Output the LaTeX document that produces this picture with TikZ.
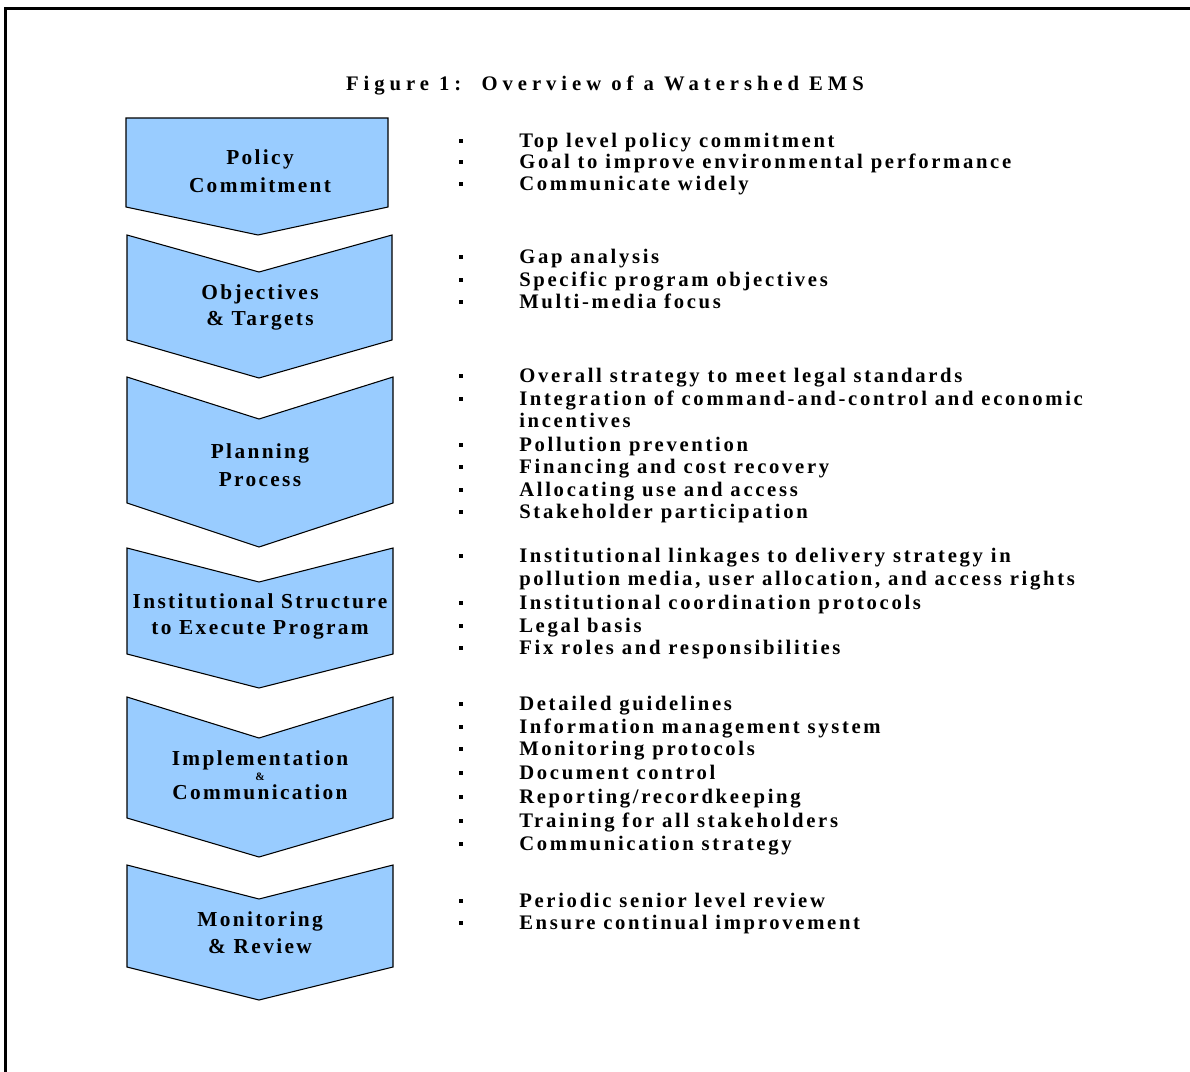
\documentclass[tikz,border=0pt]{standalone}
\usepackage{fontspec}
\setmainfont{Liberation Serif}
\newfontfamily\labfont[LetterSpace=11]{Liberation Serif}
\newfontfamily\itemfont[LetterSpace=13]{Liberation Serif}
\newfontfamily\ttlfont[LetterSpace=24]{Liberation Serif}
\definecolor{chevblue}{RGB}{153,204,255}
\begin{document}
\begin{tikzpicture}[x=0.75pt,y=-0.75pt,
  chev/.style={draw=black,line width=0.8pt,fill=chevblue,line join=miter},
  lab/.style={inner sep=0pt,anchor=mid,yshift=-2.5pt,font=\labfont\bfseries\fontsize{16pt}{18pt}\selectfont},
  amp/.style={inner sep=0pt,anchor=mid,yshift=-1pt,font=\labfont\bfseries\fontsize{8.5pt}{9pt}\selectfont},
  itm/.style={inner sep=0pt,anchor=mid west,yshift=-2.5pt,font=\itemfont\bfseries\fontsize{15.5pt}{17pt}\selectfont},
  bul/.style={inner sep=0pt,outer sep=0pt,rectangle,fill=black,minimum size=2.4pt}]
\useasboundingbox (0,0) rectangle (1190,1072);
% frame
\draw[line width=2.4pt,line cap=rect] (5.5,1072) -- (5.5,8.5) -- (1190,8.5);
% title
\node[inner sep=0pt,anchor=mid,yshift=-2.5pt,font=\ttlfont\bfseries\fontsize{15.5pt}{17pt}\selectfont] (title) at (605,84) {Figure 1:~~Overview of a Watershed EMS};
% chevrons
\draw[chev] (126,118) -- (388,118) -- (388,207) -- (258,235) -- (126,207) -- cycle;
\draw[chev] (127,235) -- (259,272) -- (392,235) -- (392,340) -- (259,378) -- (127,340) -- cycle;
\draw[chev] (127,377) -- (259,419) -- (393,377) -- (393,503) -- (259,547) -- (127,503) -- cycle;
\draw[chev] (127,548) -- (259,582) -- (393,548) -- (393,654) -- (259,688) -- (127,654) -- cycle;
\draw[chev] (127,697) -- (259,738) -- (393,697) -- (393,818) -- (259,857) -- (127,818) -- cycle;
\draw[chev] (127,865) -- (259,899) -- (393,865) -- (393,967) -- (259,1000) -- (127,967) -- cycle;
% chevron labels
\node[lab] (l1a) at (260,158) {Policy};
\node[lab] (l1b) at (260,186) {Commitment};
\node[lab] (l2a) at (260,293) {Objectives};
\node[lab] (l2b) at (260,319) {\& Targets};
\node[lab] (l3a) at (260,452) {Planning};
\node[lab] (l3b) at (260,480) {Process};
\node[lab] (l4a) at (260,602) {Institutional Structure};
\node[lab] (l4b) at (260,628) {to Execute Program};
\node[lab] (l5a) at (260,759) {Implementation};
\node[amp] (l5m) at (260,776) {\&};
\node[lab] (l5b) at (260,793) {Communication};
\node[lab] (l6a) at (260,920) {Monitoring};
\node[lab] (l6b) at (260,947) {\& Review};
% items
\foreach \y/\t [count=\i] in {
  141/{Top level policy commitment},
  162/{Goal to improve environmental performance},
  184/{Communicate widely},
  257/{Gap analysis},
  280/{Specific program objectives},
  302/{Multi-media focus},
  376/{Overall strategy to meet legal standards},
  399/{Integration of command-and-control and economic},
  445/{Pollution prevention},
  467/{Financing and cost recovery},
  490/{Allocating use and access},
  512/{Stakeholder participation},
  556/{Institutional linkages to delivery strategy in},
  603/{Institutional coordination protocols},
  626/{Legal basis},
  648/{Fix roles and responsibilities},
  704/{Detailed guidelines},
  727/{Information management system},
  749/{Monitoring protocols},
  773/{Document control},
  797/{Reporting{/}recordkeeping},
  821/{Training for all stakeholders},
  844/{Communication strategy},
  901/{Periodic senior level review},
  923/{Ensure continual improvement}}{
  \node[bul] (b\i) at (461,\y) {};
  \node[itm] (t\i) at (519,\y) {\t};
}
\node[itm] (c1) at (519,421) {incentives};
\node[itm] (c2) at (519,579) {pollution media, user allocation, and access rights};
\end{tikzpicture}
\end{document}
